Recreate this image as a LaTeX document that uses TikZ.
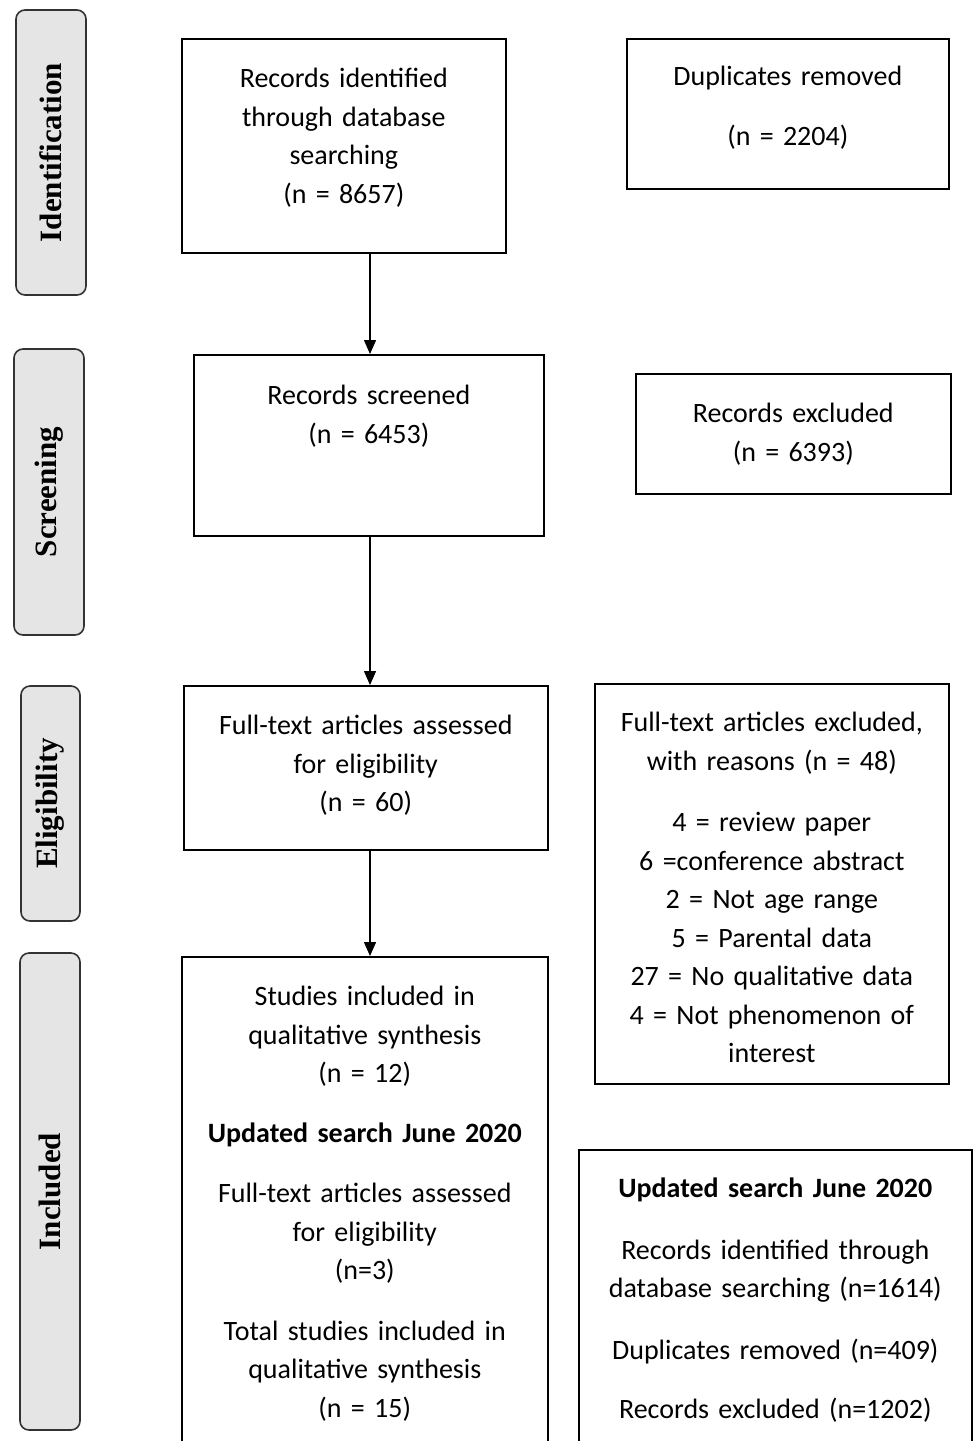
\documentclass[tikz,border=0pt]{standalone}
\usepackage{fontspec}
\setmainfont{Carlito}
\newfontfamily\stagefont{Liberation Serif}
\usetikzlibrary{arrows.meta}

\begin{document}
\begin{tikzpicture}[x=1pt,y=-1pt,>={Triangle[width=12pt,length=14pt]}]
    \tikzstyle{stage}=[draw=black!80,line width=1.6pt,fill=black!10,rounded corners=9pt,
        rotate=90,inner sep=0pt,font=\stagefont\fontsize{31}{31}\selectfont\bfseries]
    \tikzstyle{box}=[draw,line width=1.6pt,anchor=north west,inner sep=0pt,align=center,
        font=\fontsize{28}{38.5}\selectfont]
    \tikzstyle{flow}=[->,line width=1.4pt]

    \clip (0,0) rectangle (973,1441);
    \fill[white] (0,0) rectangle (973,1441);

    % Draw the stage labels on the left
    \foreach \name/\x/\y/\len/\wid/\lab in {id/51/152.5/285/70/Identification,
        scr/49/492/286/70/Screening, elig/50.5/803.5/235/59/Eligibility,
        inc/50/1191.5/477/60/Included}
        \node[stage,minimum width=\len,minimum height=\wid] (S-\name) at (\x,\y) {\lab};

    % Draw the main column
    \node[box,text width=324pt,text height=49pt,text depth=165pt] (ident) at (181,38)
        {Records identified\\through database\\searching\\(n = 8657)};
    \node[box,text width=350pt,text height=50pt,text depth=131pt] (screen) at (193,354)
        {Records screened\\(n = 6453)};
    \node[box,text width=364pt,text height=49pt,text depth=115pt] (full) at (183,685)
        {Full-text articles assessed\\for eligibility\\(n = 60)};
    \node[box,text width=366pt,text height=49pt,text depth=450pt] (incl) at (181,956)
        {Studies included in\\qualitative synthesis\\(n = 12)\\[21pt]
         \textbf{Updated search June 2020}\\[22pt]
         Full-text articles assessed\\for eligibility\\(n=3)\\[22pt]
         Total studies included in\\qualitative synthesis\\(n = 15)};

    % Draw the side boxes
    \node[box,text width=322pt,text height=47pt,text depth=103pt] (dup) at (626,38)
        {Duplicates removed\\[21pt](n = 2204)};
    \node[box,text width=315pt,text height=49pt,text depth=71pt] (excl) at (635,373)
        {Records excluded\\(n = 6393)};
    \node[box,text width=354pt,text height=48pt,text depth=352pt] (fullexcl) at (594,683)
        {Full-text articles excluded,\\with reasons (n = 48)\\[23pt]
         4 = review paper\\6 =conference abstract\\2 = Not age range\\
         5 = Parental data\\27 = No qualitative data\\4 = Not phenomenon of\\interest};
    \node[box,text width=393pt,text height=48pt,text depth=310pt] (update) at (578,1149)
        {\textbf{Updated search June 2020}\\[23pt]
         Records identified through\\database searching (n=1614)\\[23pt]
         Duplicates removed (n=409)\\[21pt]
         Records excluded (n=1202)};

    % Connect the main column
    \coordinate (spine) at (370,0);
    \draw[flow] (ident.south -| spine) -- (screen.north -| spine);
    \draw[flow] (screen.south -| spine) -- (full.north -| spine);
    \draw[flow] (full.south -| spine) -- (incl.north -| spine);
\end{tikzpicture}
\end{document}
